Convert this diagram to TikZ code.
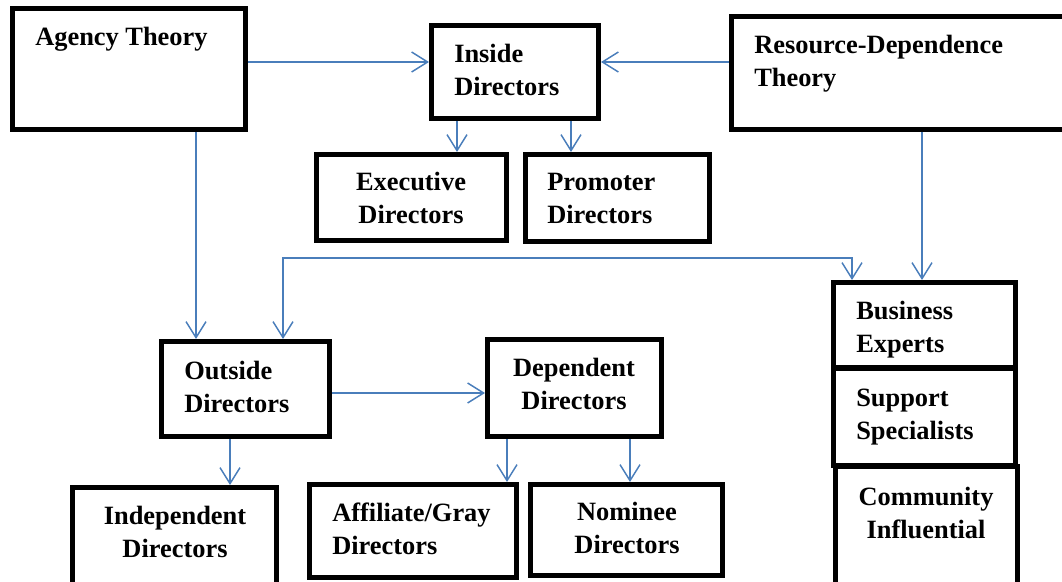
\documentclass[tikz,border=0pt]{standalone}
\usepackage{fontspec}
\setmainfont{Liberation Serif}
\usetikzlibrary{arrows.meta,fit}
\definecolor{linkblue}{RGB}{74,126,187}
\tikzset{
  box/.style={draw=black, line width=3.75pt, fill=white, inner sep=0pt},
  lbl/.style={font=\fontsize{19.8}{24.75}\selectfont\bfseries, inner sep=0pt},
  lbll/.style={lbl, align=left, anchor=base west},
  lblc/.style={lbl, align=center, anchor=base},
  conn/.style={draw=linkblue, line width=1.1pt,
    -{Straight Barb[length=12pt,width=15pt,line width=1.1pt]}},
  conn2/.style={draw=linkblue, line width=1.1pt,
    {Straight Barb[length=12pt,width=15pt,line width=1.1pt]}-{Straight Barb[length=12pt,width=15pt,line width=1.1pt]}}
}
\begin{document}
\begin{tikzpicture}[x=0.75pt,y=-0.75pt]
\useasboundingbox (0,0) rectangle (1062,581);
\clip (0,0) rectangle (1062,581);

% boxes
\node[box, fit={(12.5,8.5)(245.5,129.5)}] (agency) {};
\node[box, fit={(431.5,25.5)(598.5,119)}] (inside) {};
\node[box, fit={(731.5,16.5)(1080,129.5)}] (resource) {};
\node[box, fit={(316.5,154.5)(506.5,240.5)}] (exec) {};
\node[box, fit={(525.5,154.5)(709.5,241)}] (promo) {};
\node[box, fit={(833.5,282.5)(1015.5,367.5)}] (business) {};
\node[box, fit={(833.5,368)(1015.5,465.5)}] (support) {};
\node[box, fit={(835,466)(1017,600)}] (community) {};
\node[box, fit={(161.5,341.5)(329.5,436.5)}] (outside) {};
\node[box, fit={(487.5,339.5)(661.5,436.5)}] (dependent) {};
\node[box, fit={(72.5,487.5)(276.5,600)}] (independent) {};
\node[box, fit={(309.5,484.5)(516.5,577.5)}] (affiliate) {};
\node[box, fit={(530.5,484.5)(722.5,575.5)}] (nominee) {};

% labels (base anchor sits on the last line)
\node[lbll] (agency-t) at (35,46) {Agency Theory};
\node[lbll] (inside-t) at (454,96) {Inside\\Directors};
\node[lbll] (resource-t) at (754,87) {Resource-Dependence\\Theory};
\node[lblc] (exec-t) at (411,223) {Executive\\Directors};
\node[lbll] (promo-t) at (547,223) {Promoter\\Directors};
\node[lbll] (business-t) at (856,352) {Business\\Experts};
\node[lbll] (support-t) at (856,439) {Support\\Specialists};
\node[lblc] (community-t) at (926,538) {Community\\Influential};
\node[lbll] (outside-t) at (184,412) {Outside\\Directors};
\node[lblc] (dependent-t) at (574,409) {Dependent\\Directors};
\node[lblc] (independent-t) at (175,557) {Independent\\Directors};
\node[lbll] (affiliate-t) at (332,554) {Affiliate/Gray\\Directors};
\node[lblc] (nominee-t) at (627,553) {Nominee\\Directors};

% connector columns and rows
\coordinate (r62) at (0,62);
\coordinate (r393) at (0,393);
\coordinate (c196) at (196,0);
\coordinate (c230) at (230,0);
\coordinate (c457) at (457,0);
\coordinate (c507) at (507,0);
\coordinate (c571) at (571,0);
\coordinate (c630) at (630,0);
\coordinate (c922) at (922,0);
\coordinate (jl) at (283,258);
\coordinate (jr) at (852,258);

% connectors
\draw[conn] (agency.east |- r62) -- (inside.west |- r62);
\draw[conn] (resource.west |- r62) -- (inside.east |- r62);
\draw[conn] (inside.south -| c457) -- (exec.north -| c457);
\draw[conn] (inside.south -| c571) -- (promo.north -| c571);
\draw[conn] (agency.south -| c196) -- (outside.north -| c196);
\draw[conn] (resource.south -| c922) -- (business.north -| c922);
\draw[conn2] (outside.north -| jl) -- (jl) -- (jr) -- (business.north -| jr);
\draw[conn] (outside.east |- r393) -- (dependent.west |- r393);
\draw[conn] (outside.south -| c230) -- (independent.north -| c230);
\draw[conn] (dependent.south -| c507) -- (affiliate.north -| c507);
\draw[conn] (dependent.south -| c630) -- (nominee.north -| c630);
\end{tikzpicture}
\end{document}
